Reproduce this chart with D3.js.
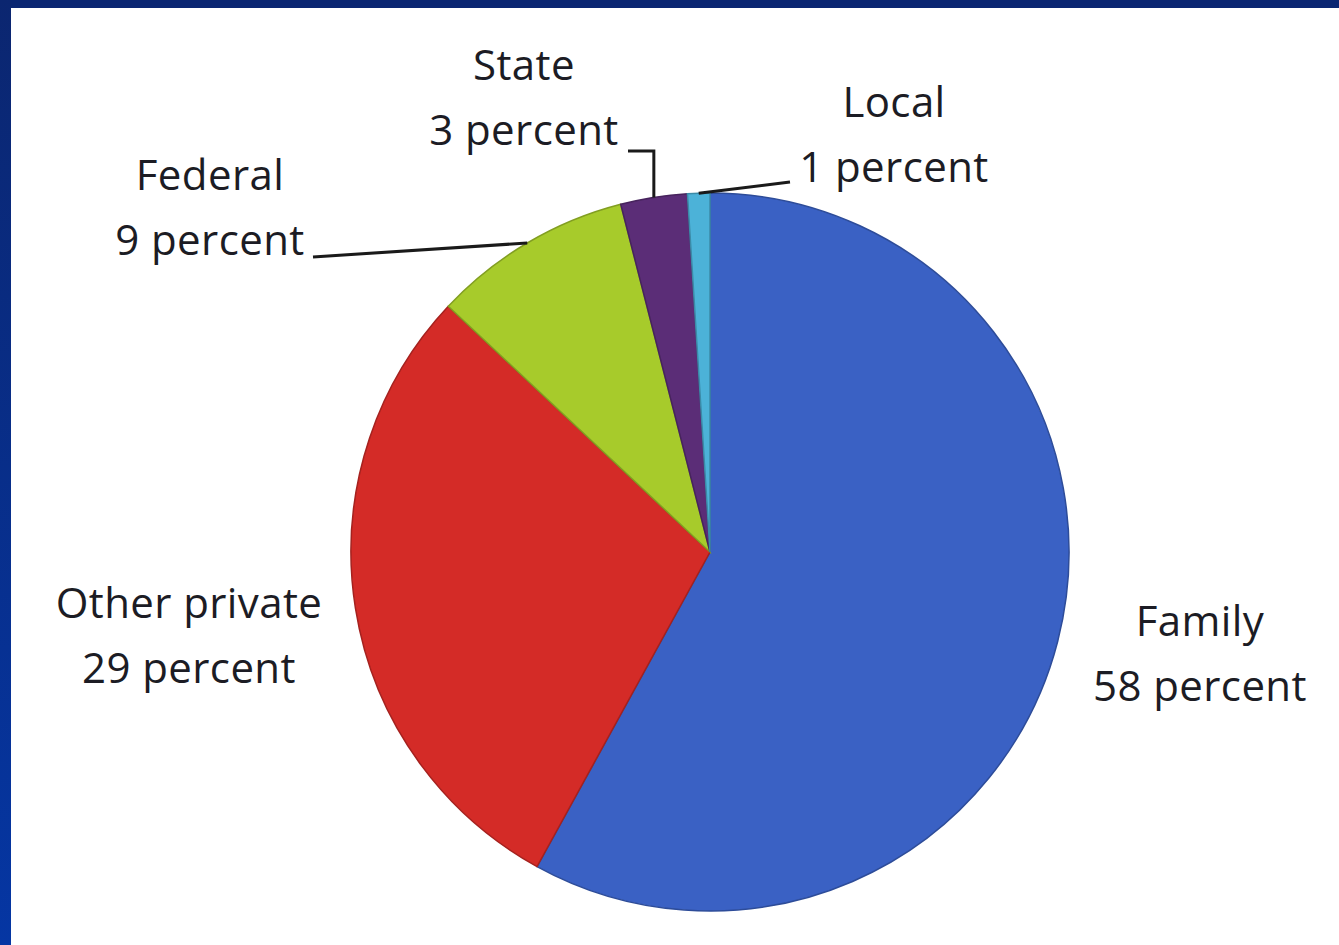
<!DOCTYPE html>
<html><head><meta charset="utf-8">
<script src="https://cdn.jsdelivr.net/npm/d3@7/dist/d3.min.js"></script>
<style>html,body{margin:0;padding:0;background:#fff;overflow:hidden}</style>
</head><body>
<script>
const categories = ["Family", "Other private", "Federal", "State", "Local"];
const values = [58, 29, 9, 3, 1];
const colors = ["#3a61c4", "#d42b27", "#a7cb2b", "#5b2d77", "#4cb2d8"];
const unitLabel = "percent";

const W = 1339, H = 945;
const cx = 710, cy = 552, R = 359;

const svg = d3.select("body").append("svg").attr("width", W).attr("height", H);
const defs = svg.append("defs");
const g1 = defs.append("linearGradient").attr("id","lg").attr("x1",0).attr("y1",0).attr("x2",0).attr("y2",1);
g1.append("stop").attr("offset","0%").attr("stop-color","#0b2670");
g1.append("stop").attr("offset","100%").attr("stop-color","#0536a3");

svg.append("rect").attr("width",W).attr("height",H).attr("fill","#fff");
svg.append("rect").attr("x",0).attr("y",0).attr("width",W).attr("height",8).attr("fill","#0a2672");
svg.append("rect").attr("x",0).attr("y",0).attr("width",11).attr("height",H).attr("fill","url(#lg)");

const data = categories.map((c,i)=>({name:c, value:values[i], color:colors[i]}));
const pie = d3.pie().sort(null).value(d=>d.value).startAngle(0).endAngle(2*Math.PI);
const arcs = pie(data);
const arc = d3.arc().innerRadius(0).outerRadius(R);
const edge = d3.arc().innerRadius(R).outerRadius(R);

const g = svg.append("g").attr("transform",`translate(${cx},${cy})`);
g.selectAll("path").data(arcs).join("path")
  .attr("d", arc)
  .attr("fill", d=>d.data.color)
  .attr("stroke", d=>d3.color(d.data.color).darker(0.7))
  .attr("stroke-width", 1.5);

// label layout (positions only)
const layout = {
  "Family":        {x:1200, y:636},
  "Other private": {x:189,  y:618},
  "Federal":       {x:210,  y:190, leader:"straight", from:[313,257]},
  "State":         {x:524,  y:80,  leader:"hook", from:[628,151]},
  "Local":         {x:894,  y:117, leader:"straight", from:[790,182]}
};
const lineGap = 65;

const lab = svg.append("g").attr("font-family","'Open Sans', sans-serif").attr("font-size",42)
  .attr("letter-spacing","0.4px").attr("fill","#1c1c24").attr("text-anchor","middle");
arcs.forEach(a=>{
  const L = layout[a.data.name];
  lab.append("text").attr("x",L.x).attr("y",L.y).text(a.data.name);
  lab.append("text").attr("x",L.x).attr("y",L.y+lineGap).text(a.data.value + " " + unitLabel);
  if (L.leader) {
    const [ex, ey] = edge.centroid(a);
    const px = cx + ex, py = cy + ey;
    let pts;
    if (L.leader === "hook") pts = [L.from, [px, L.from[1]], [px, py]];
    else pts = [L.from, [px, py]];
    svg.append("path").attr("d", d3.line()(pts)).attr("fill","none")
      .attr("stroke","#1a1a1a").attr("stroke-width",3);
  }
});
</script>
</body></html>
